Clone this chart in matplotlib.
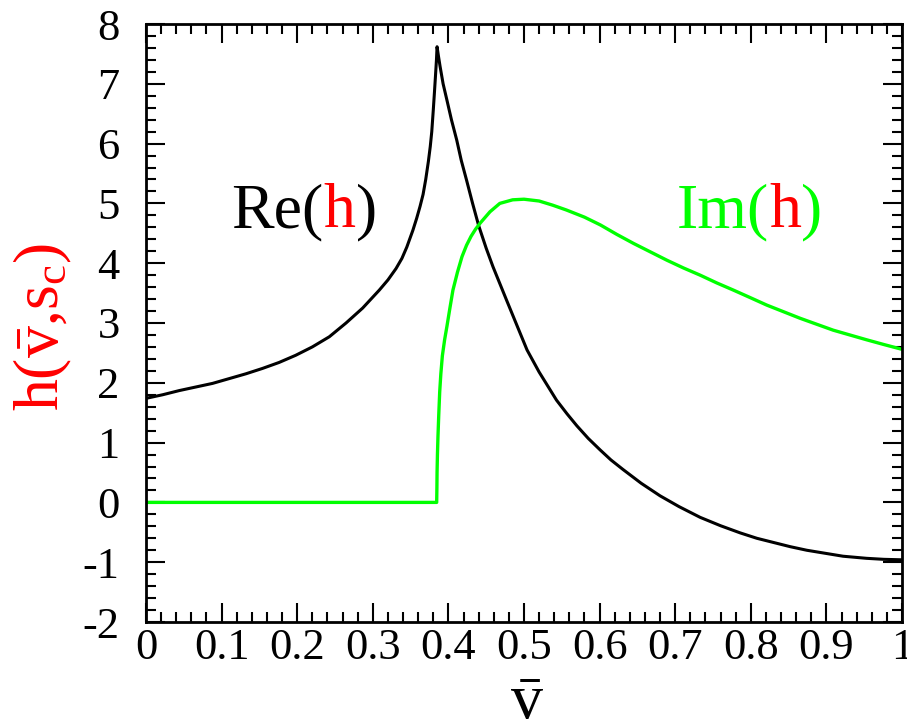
import matplotlib
matplotlib.use("Agg")
import matplotlib.pyplot as plt
from matplotlib.ticker import MultipleLocator

plt.rcParams["font.family"] = ["Liberation Serif", "DejaVu Serif"]
plt.rcParams["mathtext.fontset"] = "custom"
plt.rcParams["mathtext.rm"] = "Liberation Serif"
plt.rcParams["mathtext.it"] = "Liberation Serif:italic"
plt.rcParams["axes.unicode_minus"] = False

# Real part of h along v-bar (cusp at the threshold)
re_v = [0.0, 0.022, 0.044, 0.066, 0.088, 0.11, 0.132, 0.154, 0.176, 0.198,
        0.22, 0.2425, 0.2646, 0.2866, 0.3086, 0.32, 0.3307, 0.3385, 0.345, 0.353,
        0.358, 0.3625, 0.3665, 0.370, 0.3735, 0.376, 0.378, 0.380, 0.3815, 0.383,
        0.3842, 0.385, 0.387, 0.389, 0.393, 0.398, 0.404, 0.411, 0.417, 0.424,
        0.432, 0.44, 0.45, 0.459, 0.468, 0.477, 0.49, 0.504, 0.52, 0.543,
        0.557, 0.57, 0.585, 0.6005, 0.615, 0.631, 0.655, 0.68, 0.705, 0.733,
        0.76, 0.786, 0.808, 0.83, 0.852, 0.874, 0.898, 0.922, 0.953, 0.976, 1.0]
re_h = [1.74, 1.80, 1.87, 1.93, 1.99, 2.07, 2.15, 2.24, 2.34, 2.46,
        2.60, 2.77, 3.00, 3.25, 3.55, 3.72, 3.91, 4.08, 4.27, 4.55,
        4.75, 4.95, 5.15, 5.40, 5.70, 5.95, 6.20, 6.56, 6.85, 7.15,
        7.40, 7.62, 7.45, 7.29, 7.00, 6.73, 6.40, 6.06, 5.72, 5.39,
        5.00, 4.63, 4.25, 3.94, 3.66, 3.38, 2.98, 2.55, 2.18, 1.71,
        1.48, 1.28, 1.07, 0.88, 0.71, 0.55, 0.32, 0.11, -0.07, -0.25,
        -0.39, -0.51, -0.60, -0.67, -0.74, -0.80, -0.85, -0.90, -0.935, -0.952, -0.96]

# Imaginary part of h (zero below threshold)
im_v = [0.0, 0.3845, 0.3848, 0.385, 0.3855, 0.3862, 0.3872, 0.3885, 0.390, 0.392,
        0.395, 0.398, 0.402, 0.406, 0.412, 0.418, 0.424, 0.43, 0.436, 0.442,
        0.455, 0.468, 0.485, 0.50, 0.52, 0.538, 0.556, 0.58, 0.601, 0.623,
        0.645, 0.667, 0.689, 0.711, 0.733, 0.755, 0.777, 0.80, 0.821, 0.843,
        0.865, 0.887, 0.909, 0.931, 0.953, 0.976, 1.0]
im_h = [0.0, 0.0, 0.25, 0.5, 0.8, 1.1, 1.45, 1.85, 2.15, 2.45,
        2.72, 2.94, 3.25, 3.55, 3.85, 4.11, 4.30, 4.45, 4.57, 4.67,
        4.86, 5.00, 5.06, 5.07, 5.04, 4.97, 4.89, 4.77, 4.64, 4.48,
        4.33, 4.19, 4.05, 3.92, 3.80, 3.67, 3.55, 3.42, 3.30, 3.19,
        3.08, 2.98, 2.88, 2.80, 2.72, 2.64, 2.56]

x_ticks = [0, 0.1, 0.2, 0.3, 0.4, 0.5, 0.6, 0.7, 0.8, 0.9, 1]
x_ticklabels = ["0", "0.1", "0.2", "0.3", "0.4", "0.5", "0.6", "0.7", "0.8", "0.9", "1"]
y_ticks = [-2, -1, 0, 1, 2, 3, 4, 5, 6, 7, 8]
y_ticklabels = ["-2", "-1", "0", "1", "2", "3", "4", "5", "6", "7", "8"]

GREEN = "#00ff00"
RED = "#ff0000"

fig = plt.figure(figsize=(9.07, 7.26), dpi=100)
ax = fig.add_axes([146 / 907, 104 / 726, 756 / 907, 598 / 726])

ax.plot(re_v, re_h, color="black", lw=2.2, solid_joinstyle="round")
ax.plot(im_v, im_h, color=GREEN, lw=2.4, solid_joinstyle="round")

ax.set_xlim(0, 1)
ax.set_ylim(-2, 8)
ax.set_xticks(x_ticks)
ax.set_xticklabels(x_ticklabels)
ax.set_yticks(y_ticks)
ax.set_yticklabels(y_ticklabels)
ax.xaxis.set_minor_locator(MultipleLocator(0.02))
ax.yaxis.set_minor_locator(MultipleLocator(0.2))

ax.tick_params(which="both", direction="in", top=True, right=True, width=1.5)
ax.tick_params(which="major", length=13.5)
ax.tick_params(which="minor", length=7)
ax.tick_params(axis="x", which="major", labelsize=32, pad=4)
ax.tick_params(axis="y", which="major", labelsize=32, pad=19)
for sp in ax.spines.values():
    sp.set_linewidth(2.0)


def colored_text(x, y, parts, size):
    t = ax.text(x, y, parts[0][0], color=parts[0][1], fontsize=size,
                transform=ax.transData, va="baseline")
    for s, c in parts[1:]:
        t = ax.annotate(s, xycoords=t, xy=(1, 0), va="bottom",
                        color=c, fontsize=size)
    return t


colored_text(0.113, 4.6, [("Re(", "black"), ("h", RED), (")", "black")], 46)
colored_text(0.702, 4.6, [("Im(", GREEN), ("h", RED), (")", GREEN)], 46)

fig.text(12 / 907, 0.55, r"$\mathrm{h(\bar{v}{,}s_c)}$", color=RED, fontsize=46,
         rotation=90, ha="left", va="center")
fig.text(527 / 907, 7 / 726, r"$\bar{\mathrm{v}}$", color="black", fontsize=46,
         ha="center", va="baseline")

fig.savefig("out.png", dpi=100)
